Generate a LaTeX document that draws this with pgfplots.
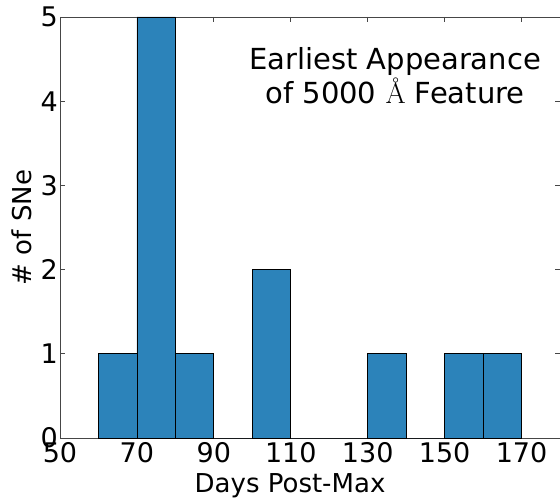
\documentclass[border=0pt]{standalone}
\usepackage{pgfplots}
\pgfplotsset{compat=1.18}
\usepackage{fontspec}
\setmainfont{DejaVu Sans}
\newfontfamily\lmr{Latin Modern Roman}
\definecolor{barblue}{RGB}{44,131,186}
\definecolor{spine}{RGB}{70,70,70}

\begin{document}
\begin{tikzpicture}
\useasboundingbox (-60bp,-65bp) rectangle (500bp,438bp);
\begin{axis}[
	at={(0,0)}, anchor=south west,
	scale only axis,
	width=500bp, height=421bp,
	xmin=50, xmax=180, ymin=0, ymax=5,
	xtick={50,70,...,170},
	ytick={0,1,2,3,4,5},
	/pgf/number format/assume math mode=true,
	tick align=inside,
	major tick length=5bp,
	axis line style={spine, line width=0.8bp},
	tick style={spine, line width=0.8bp},
	ticklabel style={font=\fontsize{27bp}{27bp}\selectfont},
	xticklabel style={inner sep=1bp, yshift=-3bp},
	yticklabel style={inner sep=1bp, xshift=-1bp},
	xlabel={Days Post-Max},
	ylabel={\# of SNe},
	label style={font=\fontsize{26bp}{26bp}\selectfont},
	xlabel style={inner sep=0pt, yshift=-10bp, xshift=-20bp},
	ylabel style={inner sep=0pt, yshift=8bp},
]
\addplot[ybar interval, fill=barblue, draw=black, line width=0.8bp] coordinates {
(60, 1)
(70, 5)
(80, 1)
(90, 0)
(100, 2)
(110, 0)
(120, 0)
(130, 1)
(140, 0)
(150, 1)
(160, 1)
(170, 0)
};
\node[anchor=north, align=center, inner sep=0pt,
	font=\fontsize{29bp}{34bp}\selectfont]
	at (rel axis cs:0.67,0.929) {Earliest Appearance\\of 5000 {\lmr Å} Feature};
\end{axis}
\end{tikzpicture}
\end{document}
